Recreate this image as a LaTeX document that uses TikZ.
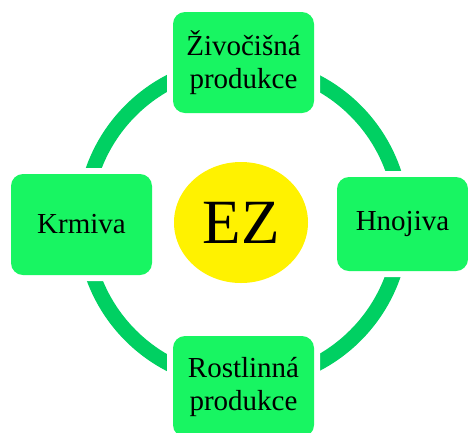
\documentclass[tikz,border=0pt]{standalone}
\usepackage{fontspec}
\setmainfont{Liberation Serif}
\usetikzlibrary{shapes.geometric}
\definecolor{boxgreen}{RGB}{24,245,98}
\definecolor{ringgreen}{RGB}{0,208,98}

\begin{document}
\begin{tikzpicture}[x=1pt, y=-1pt,
  box/.style={rectangle, rounded corners=12pt, fill=boxgreen, inner sep=0pt,
    minimum width=141pt, minimum height=101pt, align=center,
    font=\fontsize{29}{33}\selectfont, preaction={draw=white, line width=12pt}},
  hub/.style={ellipse, fill=yellow, inner sep=0pt, minimum width=134pt,
    minimum height=121pt, font=\fontsize{63}{70}\selectfont}]
  \useasboundingbox (0,0) rectangle (468,432);
  \draw[ringgreen, line width=15pt] (243,223) circle (159);
  \node[hub] (EZ) at (241,222.5) {EZ};
  \node[box] (ziv) at (243.5,62.5) {Živočišná\\produkce};
  \node[box, minimum width=131pt, minimum height=94pt] (hno) at (402.5,224) {Hnojiva};
  \node[box] (rost) at (243.5,386.5) {Rostlinná\\produkce};
  \node[box] (krm) at (81.5,224.5) {Krmiva};
\end{tikzpicture}
\end{document}
